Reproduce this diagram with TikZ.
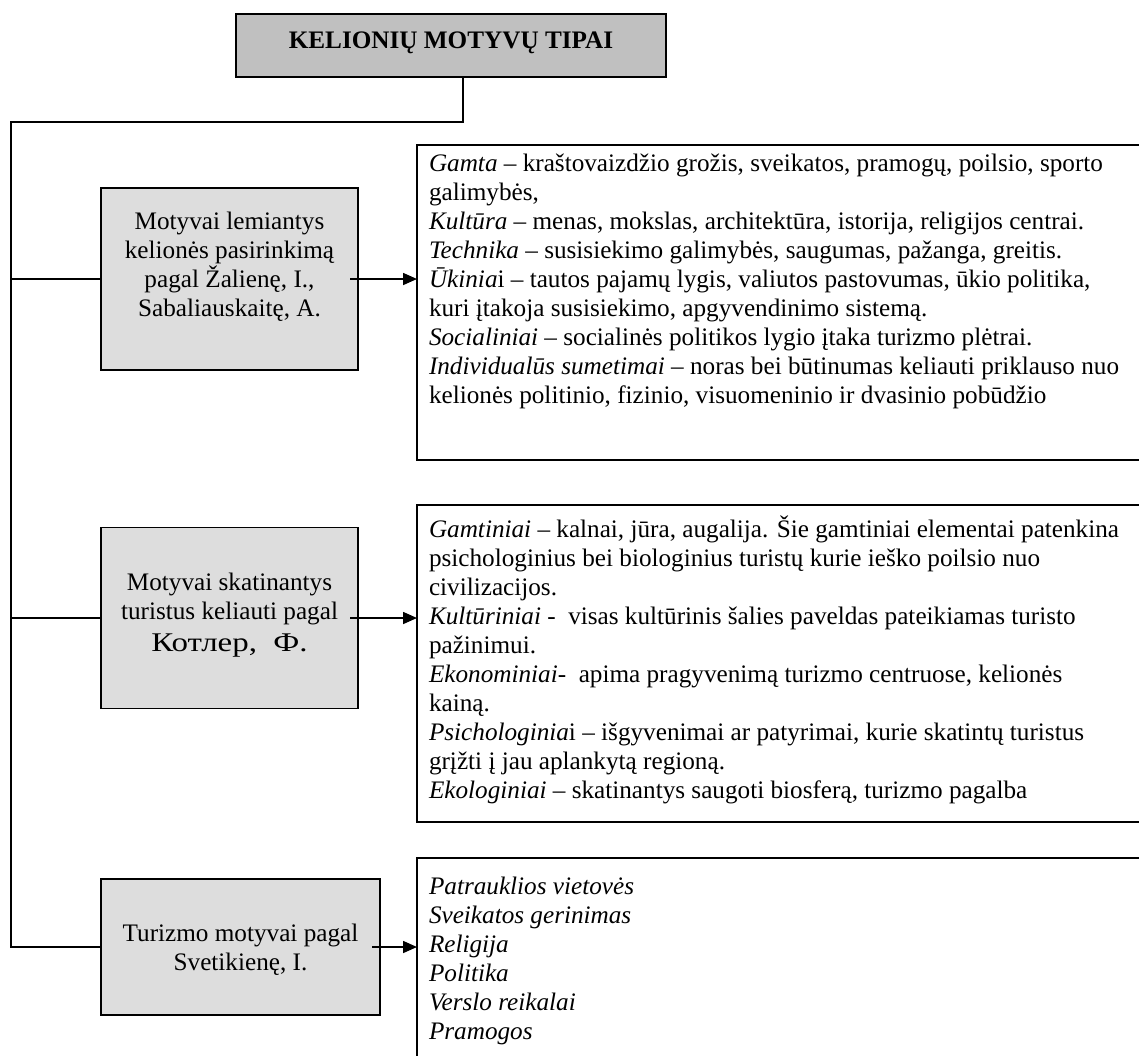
\documentclass[tikz,border=0pt]{standalone}
\usepackage{fontspec}
\setmainfont{Liberation Serif}
\usetikzlibrary{arrows.meta}
\definecolor{headgray}{HTML}{C0C0C0}
\definecolor{boxgray}{HTML}{DDDDDD}
\begin{document}
\begin{tikzpicture}[x=1pt,y=-1pt,
  every node/.style={outer sep=0pt},
  link/.style={line width=1.6pt},
  arr/.style={link,-{Triangle[length=14pt,width=12pt]}},
  headbox/.style={draw,line width=1.6pt,fill=headgray,anchor=north west,inner sep=0pt},
  leftbox/.style={draw,line width=1.6pt,fill=boxgray,anchor=north west,inner sep=0pt},
  listbox/.style={draw,line width=1.6pt,fill=white,anchor=north west,inner sep=0pt},
  body/.style={inner sep=0pt,font=\fontsize{25.2}{29}\selectfont},
]
\fill[white] (0,0) rectangle (1139,1055);
\clip (0,0) rectangle (1139,1055);

% title
\node[headbox,minimum width=430pt,minimum height=63pt] (head) at (236,14) {};
\node[inner sep=0pt,anchor=base,font=\fontsize{25.2}{30}\selectfont\bfseries] (headtxt) at (451,48) {KELIONIŲ MOTYVŲ TIPAI};

% category boxes
\node[leftbox,minimum width=257pt,minimum height=182pt] (b1) at (101,188) {};
\node[leftbox,minimum width=257pt,minimum height=181pt] (b2) at (101,527.5) {};
\node[leftbox,minimum width=279pt,minimum height=136pt] (b3) at (101,879) {};

% description boxes (run past the right and bottom edges)
\node[listbox,minimum width=760pt,minimum height=315pt] (r1) at (417,145) {};
\node[listbox,minimum width=760pt,minimum height=317pt] (r2) at (417,505) {};
\node[listbox,minimum width=760pt,minimum height=260pt] (r3) at (417,858) {};

% tree connectors
\coordinate (drop) at ([xshift=12pt]head.south);
\coordinate (spine) at (11,122);
\draw[link] (drop) |- (spine) -- (spine |- b3.west) -- (b3.west);
\draw[link] (spine |- b1.west) -- (b1.west);
\draw[link] (spine |- b2.west) -- (b2.west);

% arrows to descriptions
\draw[arr] ([xshift=-8pt]b1.east) -- (b1.east -| r1.west);
\draw[arr] ([xshift=-8pt]b2.east) -- (b2.east -| r2.west);
\draw[arr] ([xshift=-8pt]b3.east) -- (b3.east -| r3.west);

% category texts
\node[body,anchor=base] (t1) at (229.5,229) {\parbox[t]{250pt}{\centering
  Motyvai lemiantys\\kelionės pasirinkimą\\pagal Žalienę, I.,\\Sabaliauskaitę, A.}};
\node[body,anchor=base] (t2) at (229.5,590) {\parbox[t]{250pt}{\centering
  Motyvai skatinantys\\turistus keliauti pagal\\[3pt]\scalebox{1.22}[1.0]{\fontsize{27}{30}\selectfont Котлер,\ \ Ф.}}};
\node[body,anchor=base] (t3) at (240.5,941) {\parbox[t]{270pt}{\centering
  Turizmo motyvai pagal\\Svetikienę, I.}};

% description texts
\node[body,anchor=base west] (l1) at (429,171) {\parbox[t]{760pt}{\raggedright
  \textit{Gamta} – kraštovaizdžio grožis, sveikatos, pramogų, poilsio, sporto\\
  galimybės,\\
  \textit{Kultūra} – menas, mokslas, architektūra, istorija, religijos centrai.\\
  \textit{Technika} – susisiekimo galimybės, saugumas, pažanga, greitis.\\
  \textit{Ūkinia}i – tautos pajamų lygis, valiutos pastovumas, ūkio politika,\\
  kuri įtakoja susisiekimo, apgyvendinimo sistemą.\\
  \textit{Socialiniai} – socialinės politikos lygio įtaka turizmo plėtrai.\\
  \textit{Individualūs sumetimai} – noras bei būtinumas keliauti priklauso nuo\\
  kelionės politinio, fizinio, visuomeninio ir dvasinio pobūdžio}};
\node[body,anchor=base west] (l2) at (429,537) {\parbox[t]{760pt}{\raggedright
  \textit{Gamtiniai} – kalnai, jūra, augalija. Šie gamtiniai elementai patenkina\\
  psichologinius bei biologinius turistų kurie ieško poilsio nuo\\
  civilizacijos.\\
  \textit{Kultūriniai} -\ \ visas kultūrinis šalies paveldas pateikiamas turisto\\
  pažinimui.\\
  \textit{Ekonominiai}-\ \ apima pragyvenimą turizmo centruose, kelionės\\
  kainą.\\
  \textit{Psichologinia}i – išgyvenimai ar patyrimai, kurie skatintų turistus\\
  grįžti į jau aplankytą regioną.\\
  \textit{Ekologiniai} – skatinantys saugoti biosferą, turizmo pagalba}};
\node[body,anchor=base west] (l3) at (429,894) {\parbox[t]{760pt}{\raggedright\itshape
  Patrauklios vietovės\\
  Sveikatos gerinimas\\
  Religija\\
  Politika\\
  Verslo reikalai\\
  Pramogos}};
\end{tikzpicture}
\end{document}
